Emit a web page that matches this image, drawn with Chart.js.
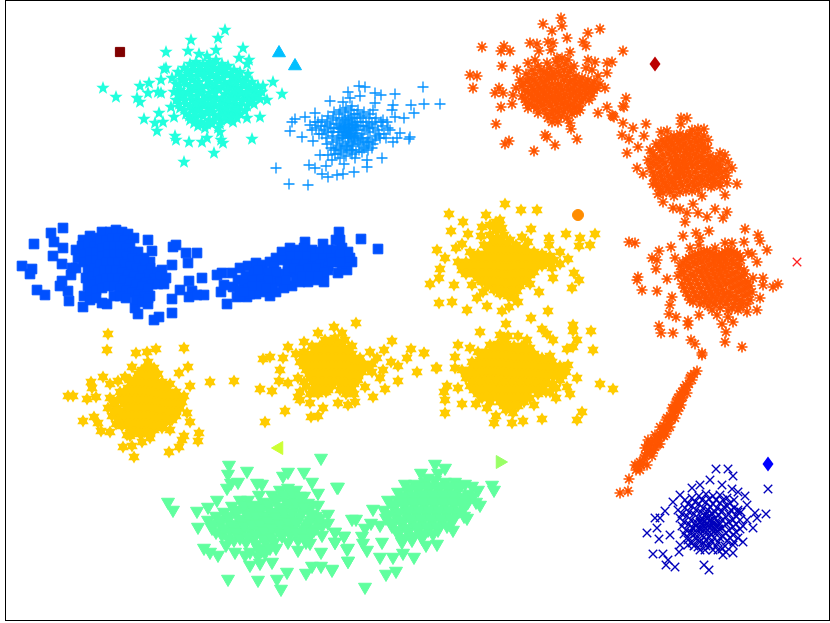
<!DOCTYPE html>
<html>
<head>
<meta charset="utf-8">
<script src="https://cdn.jsdelivr.net/npm/chart.js@4"></script>
<style>
  html, body { margin: 0; padding: 0; background: #fff; }
  canvas { display: block; }
</style>
</head>
<body>
<canvas id="chart" width="830" height="623"></canvas>
<script>
// points, x and y in picture units
const tealStars = [[225,30],[218,38],[191,40],[188,51],[166,52],[199,54],[207,56],[216,50],[243,48],[239,58],[249,60],[247,64],[248,74],[273,82],[282,94],[263,86],[267,100],[260,117],[247,118],[252,139],[223,143],[221,140],[220,132],[214,153],[207,138],[202,142],[189,142],[184,162],[176,140],[175,136],[157,131],[155,123],[163,122],[159,113],[144,119],[174,117],[171,107],[140,102],[137,98],[116,97],[103,88],[140,86],[148,93],[149,83],[158,92],[161,93],[161,80],[166,68],[164,69],
  [172,78],[178,72],[184,68],[190,64],[196,62],[203,64],[210,62],[216,60],[222,64],[228,66],[234,70],[240,72],
  [176,84],[182,80],[188,74],[194,70],[200,72],[207,70],[214,68],[220,72],[227,74],[233,78],[240,80],[246,78],[252,82],[258,86],
  [174,92],[180,90],[186,84],[192,80],[198,82],[205,78],[212,76],[218,80],[224,84],[231,86],[238,88],[244,86],[250,90],[256,92],[262,92],
  [176,100],[182,98],[188,92],[194,90],[200,92],[206,86],[213,88],[219,90],[225,94],[232,96],[238,96],[245,96],[251,98],[258,96],
  [180,108],[186,104],[192,100],[198,100],[204,96],[210,98],[216,98],[222,102],[228,104],[234,104],[240,106],[247,106],[254,104],
  [186,114],[192,110],[198,108],[204,106],[210,108],[216,106],[222,110],[228,112],[234,112],[240,114],
  [190,120],[196,118],[203,116],[209,120],[215,116],[221,120],[227,120],[233,122],[198,126],[205,128],[212,124],[218,128],
  [181,76],[187,71],[193,67],[200,67],[207,66],[213,65],[219,68],[225,70],[231,73],[237,76],[179,86],[185,80],[191,76],[197,76],[204,74],[211,72],[217,75],[223,78],[230,82],[236,83],[243,83],[249,85],[255,88],[178,95],[184,94],[190,87],[196,86],[202,88],[209,82],[215,84],[222,87],[228,90],[235,92],[241,92],[247,93],[254,97],[260,99],[179,104],[185,100],[191,96],[197,96],[203,100],[209,93],[215,93],[222,98],[229,100],[235,100],[242,101],[249,102],[184,110],[190,106],[196,104],[202,102],[208,104],[214,102],[220,105],[226,108],[232,108],[238,110],[245,111],[189,116],[195,113],[201,112],[207,113],[213,112],[219,115],[225,116],[231,117],[237,118],[194,123],[201,122],[207,124],[214,120],[220,124]];

const bluePlus = [[423,87],[440,104],[424,104],[411,105],[414,113],[404,118],[395,94],[365,87],[359,86],[348,92],[360,96],[375,93],[381,95],[330,101],[343,102],[350,98],[393,105],[375,103],[292,122],[295,119],[290,131],[302,137],[313,141],[305,117],[315,113],[276,168],[289,184],[308,185],[309,165],[315,168],[326,166],[322,174],[328,177],[337,175],[343,174],[354,172],[344,164],[367,167],[367,160],[382,158],[372,148],[368,150],[320,155],[328,155],[332,160],[410,137],[409,139],[400,133],[393,142],[397,138],[380,138],[383,120],[392,110],[395,117],[373,110],[352,150],[355,158],
  [310,125],[316,128],[322,120],[328,116],[334,112],[340,110],[346,108],[352,106],[358,110],[364,112],[370,114],[376,118],[382,126],[388,128],
  [312,130],[318,122],[324,130],[330,124],[336,120],[342,118],[348,116],[354,114],[360,118],[366,122],[372,124],[378,130],[384,134],[390,130],
  [322,134],[328,132],[334,128],[340,126],[346,124],[352,122],[358,126],[364,130],[370,132],[376,136],
  [326,138],[332,136],[338,132],[344,130],[350,128],[356,130],[362,134],[368,138],
  [333,142],[339,138],[345,136],[351,134],[357,136],[363,140],[369,142],
  [336,148],[342,144],[348,142],[354,140],[360,144],[366,146],[335,154],[341,150],[347,148],[353,146],[359,150],[340,158],[346,156],[352,154],
  [345,127],[349,131],[353,127],[347,133],[351,137],[355,133],[343,135],[349,125],[355,125],[341,129],
  [315,122],[321,126],[327,122],[333,118],[339,114],[345,112],[351,110],[357,114],[363,116],[369,118],[375,122],[381,122],[387,122],[319,134],[325,126],[331,128],[337,124],[343,122],[349,120],[355,118],[361,122],[367,126],[373,128],[379,134],[386,138],[327,144],[333,132],[339,128],[345,120],[351,118],[357,122],[363,126],[369,128],[375,140],[331,148],[337,140],[343,138],[349,138],[355,138],[361,138],[367,142],[373,144],[334,150],[340,146],[346,146],[352,144],[358,142],[364,148],[338,154],[344,152],[350,150],[356,152],[362,152],[348,136],[352,130],[346,132],[344,126],[354,136],[350,134],[356,128],[342,132],[348,128],[352,124]];

const orangeTop = [[561,18],[562,26],[543,24],[552,31],[567,38],[588,33],[600,29],[482,47],[504,46],[501,51],[510,51],[530,43],[537,44],[548,42],[553,43],[583,42],[586,46],[539,51],[551,50],[623,51],[502,66],[470,75],[477,76],[473,88],[517,70],[535,60],[528,63],[547,63],[557,58],[570,52],[588,60],[595,62],[607,63],[612,62],[607,73],[605,88],[499,88],[495,93],[503,93],[513,95],[501,107],[512,104],[528,108],[538,113],[496,124],[552,122],[558,122],[570,123],[571,129],[545,135],[547,137],[555,145],[577,139],[509,141],[505,144],[534,151],[598,113],[607,107],[612,115],[614,117],[626,98],[623,106],
  [520,80],[526,74],[532,70],[538,66],[544,72],[550,68],[556,62],[562,58],[568,60],[574,66],[586,68],[592,70],[598,76],
  [516,88],[522,86],[528,82],[534,80],[540,78],[546,80],[552,76],[558,72],[564,70],[570,72],[576,76],[582,78],[588,80],[594,82],[600,84],
  [522,96],[528,92],[534,90],[540,88],[546,86],[552,84],[558,84],[564,80],[570,82],[576,84],[582,86],[588,88],[594,90],
  [526,102],[532,98],[538,96],[544,94],[550,92],[556,92],[562,90],[568,90],[574,92],[580,94],[586,94],[592,96],
  [534,106],[540,102],[546,100],[552,98],[558,98],[564,98],[570,98],[576,100],[582,102],
  [544,110],[550,106],[556,104],[562,104],[568,106],[574,108],[580,110],[552,114],[558,112],[564,112],[572,114],[548,118],
  [523,83],[529,78],[535,74],[541,70],[547,74],[553,72],[559,66],[565,64],[571,68],[525,90],[531,86],[537,84],[543,82],[549,78],[555,78],[561,76],[567,76],[573,80],[579,82],[585,84],[591,86],[597,88],[525,99],[531,94],[537,92],[543,90],[549,88],[555,88],[561,86],[567,86],[573,88],[579,90],[585,90],[591,92],[529,104],[535,100],[541,98],[547,96],[553,96],[559,94],[565,94],[571,94],[577,96],[583,98],[589,100],[537,108],[543,105],[549,102],[555,100],[561,100],[567,102],[573,104],[579,106],[547,114],[553,110],[559,108],[565,108],[571,110],[577,112],[555,118],[561,116],[567,118]];

const orangeRight = [[624,107],[613,116],[623,123],[633,128],[646,124],[622,135],[629,139],[644,136],[627,153],[638,147],[661,132],[667,131],[681,118],[687,118],[681,124],[698,129],[704,129],[690,134],[708,140],[637,168],[643,174],[737,184],[732,168],[725,155],[720,153],[728,162],[727,183],[725,195],[702,196],[663,202],[673,208],[680,209],[693,204],[687,213],[685,222],[698,213],[707,217],[715,209],[727,212],[723,218],[712,185],[653,184],[658,194],
  [650,150],[656,144],[662,140],[668,138],[674,136],[680,134],[686,136],[692,130],[698,134],[704,136],
  [648,160],[654,156],[660,150],[666,146],[672,144],[678,142],[684,144],[690,142],[696,142],[702,144],[708,148],
  [650,168],[656,164],[662,160],[668,154],[674,152],[680,150],[686,152],[692,150],[698,150],[704,152],[710,156],[716,158],[722,160],
  [654,176],[660,172],[666,168],[672,162],[678,160],[684,160],[690,158],[696,158],[702,160],[708,164],[714,166],[720,168],[726,170],
  [656,184],[662,180],[668,176],[674,170],[680,168],[686,168],[692,166],[698,168],[704,172],[710,172],[716,174],[722,178],
  [660,190],[666,186],[672,182],[678,178],[684,176],[690,176],[696,178],[702,180],[708,180],[714,182],[720,186],
  [670,192],[676,188],[682,186],[688,186],[694,186],[676,164],[680,172],[684,164],[676,176],
  [653,153],[659,147],[665,143],[671,141],[677,139],[683,139],[689,136],[695,138],[701,140],[651,163],[657,159],[663,155],[669,149],[675,148],[681,146],[687,148],[693,146],[699,146],[705,148],[653,172],[659,167],[665,163],[671,158],[677,156],[683,156],[689,154],[695,154],[701,156],[707,160],[713,162],[719,164],[655,180],[661,176],[667,172],[673,166],[679,164],[685,164],[691,162],[697,163],[703,166],[709,168],[715,170],[721,173],[727,176],[659,187],[665,183],[671,179],[677,174],[683,172],[689,172],[695,172],[701,176],[707,176],[713,178],[719,182],[663,193],[669,189],[675,185],[681,182],[687,181],[693,182],[699,184],[705,185],[711,187],[674,196],[680,192],[686,191],[692,191],[698,190],
  [629,242],[635,243],[683,236],[696,233],[709,231],[700,238],[699,245],[745,229],[758,235],[760,241],[767,250],[744,242],[732,243],[725,243],[715,248],[690,248],[671,247],[659,251],[652,258],[657,260],[675,258],[656,269],[638,277],[637,280],[667,279],[642,290],[657,291],[672,297],[670,305],[669,314],[676,317],[688,321],[688,325],[659,326],[661,333],[673,333],[691,340],[695,344],[702,353],[725,342],[726,332],[722,324],[733,322],[742,347],[717,315],[728,317],[699,315],[747,312],[757,310],[760,298],[763,278],[763,285],[773,287],[778,284],[753,278],[757,262],[752,254],[748,253],
  [680,266],[686,260],[692,256],[698,254],[704,252],[710,252],[716,256],[722,254],[728,250],[734,252],[740,256],
  [678,276],[684,272],[690,268],[696,264],[702,262],[708,260],[714,262],[720,262],[726,260],[732,260],[738,264],[744,270],
  [682,284],[688,280],[694,276],[700,272],[706,270],[712,270],[718,270],[724,268],[730,268],[736,272],[742,276],[748,282],
  [686,292],[692,288],[698,284],[704,280],[710,278],[716,278],[722,276],[728,276],[734,280],[740,284],[746,288],[752,292],
  [690,300],[696,296],[702,292],[708,288],[714,286],[720,286],[726,284],[732,288],[738,292],[744,296],[750,300],
  [700,304],[706,298],[712,296],[718,294],[724,294],[730,296],[736,300],[742,304],[708,306],[714,304],[720,302],[726,304],[732,308],[738,310],
  [683,263],[689,258],[695,255],[701,253],[707,251],[713,254],[719,255],[725,252],[731,251],[737,254],[681,272],[687,266],[693,262],[699,259],[705,257],[711,256],[717,259],[723,258],[729,255],[735,256],[741,260],[685,278],[691,274],[697,270],[703,267],[709,265],[715,266],[721,266],[727,264],[733,264],[739,268],[745,274],[684,288],[690,284],[696,280],[702,276],[708,274],[714,274],[720,273],[726,272],[732,274],[738,278],[744,282],[750,286],[688,296],[694,292],[700,288],[706,284],[712,282],[718,282],[724,280],[730,282],[736,286],[742,290],[748,294],[693,302],[699,298],[705,294],[711,292],[717,290],[723,290],[729,292],[735,296],[741,300],[747,304],[704,302],[710,301],[716,299],[722,298],[728,300],[734,304],[740,307],[712,310],[720,308],[728,311]];

const orangeStreak = [[702,355],[697,371],[690,378],[687,387],[682,392],[677,400],[672,408],[667,418],[660,427],[655,435],[648,445],[650,453],[640,462],[640,470],[635,465],[629,479],[620,493],[628,491],
  [694,374],[692,380],[689,384],[685,390],[687,393],[683,397],[680,401],[681,405],[676,406],[678,411],[674,413],[675,418],[671,420],[668,424],[670,427],[664,430],[666,434],[661,436],[658,440],[660,444],[655,447],[652,450],[648,440],[645,448],[652,456],[644,458],[647,465],[636,470],
  [691,376],[686,385],[684,388],[680,394],[678,398],[682,398],[676,402],[674,408],[679,407],[673,410],[670,416],[672,418],[666,420],[664,426],[668,428],[662,432],[660,434],[664,436],[656,438],[658,444],[654,450],[649,446],[651,442],[655,441],[647,453],[645,456],[641,465],[637,466],[643,463]];

const blueSquaresLeft = [[63,228],[51,233],[34,244],[54,242],[63,248],[53,256],[62,264],[22,266],[32,269],[30,274],[37,290],[45,295],[60,286],[62,281],[68,291],[69,301],[83,307],[71,275],[72,268],[134,238],[148,240],[152,251],[173,247],[176,245],[186,253],[197,253],[188,263],[172,265],[202,278],[189,281],[192,291],[180,290],[189,297],[204,295],[197,295],[172,299],[172,313],[159,317],[154,320],[138,314],[135,308],[148,304],[107,304],[102,303],
  [83,240],[90,236],[96,238],[102,232],[110,232],[116,230],[122,232],[128,234],
  [76,250],[82,246],[88,244],[94,246],[100,240],[106,240],[112,238],[118,238],[124,240],[130,244],
  [78,258],[84,254],[90,252],[96,252],[102,248],[108,246],[114,246],[120,246],[126,248],[132,252],[138,252],[144,258],[150,262],
  [76,268],[84,262],[90,260],[96,260],[102,256],[108,254],[114,254],[120,254],[126,256],[132,258],[138,260],[144,264],[150,268],[156,272],[162,270],
  [88,270],[94,268],[100,264],[106,262],[112,262],[118,262],[124,264],[130,266],[136,268],[142,270],[148,274],[154,278],[160,276],[166,278],
  [86,278],[92,276],[98,272],[104,270],[110,270],[116,270],[122,272],[128,274],[134,276],[140,278],[146,282],[152,284],[158,284],[164,284],
  [88,286],[94,284],[100,280],[106,278],[112,278],[118,278],[124,280],[130,282],[136,284],[142,286],[148,288],
  [84,296],[90,292],[96,290],[102,288],[108,286],[114,286],[120,288],[126,290],[132,292],[138,294],[144,296],[150,296],
  [90,300],[96,298],[114,296],[120,296],[126,298],[136,300],[142,302],[148,298]];

const blueSquaresRight = [[339,232],[361,239],[378,249],[323,244],[305,242],[340,240],[336,240],[352,262],[347,270],[338,273],[323,275],[222,273],[217,275],[221,292],[224,285],[227,304],[237,297],[247,297],[232,273],[233,287],
  [240,268],[248,266],[256,263],[262,265],[238,280],[246,276],[254,272],[262,270],[270,262],[276,258],[282,252],[290,248],[296,250],[304,248],[312,250],[320,252],[328,250],[336,250],[342,248],[344,256],[338,258],[330,258],[322,258],[314,258],[306,256],[298,256],[290,256],[282,260],[274,266],[268,272],[260,278],[252,280],[244,284],[240,290],[248,288],[256,286],[264,284],[272,280],[280,274],[288,264],[296,264],[304,264],[312,266],[320,264],[328,266],[336,262],[342,264],[346,262],[350,258],[348,252],[340,254],[280,282],[288,272],[296,272],[304,272],[312,274],[320,272],[328,270],[264,292],[270,296],[276,292],[284,288],[292,286],[300,282],[308,282],[316,280],[324,282],[296,278],[256,294],[250,294],[240,296],[272,288],
  [286,280],[294,268],[300,270],[308,268],[316,268],[324,272],[276,272],[268,280],[260,286],[252,286],[244,292],[258,270],[332,262],[340,262],[266,288],[302,276],[310,276],[318,276]];

const yellowUpper = [[505,204],[521,210],[537,210],[449,214],[463,222],[451,231],[468,234],[486,215],[531,229],[566,234],[549,238],[580,238],[595,234],[590,245],[579,246],[437,250],[445,258],[462,244],[456,248],[440,269],[439,278],[430,284],[454,285],[439,303],[452,302],[467,310],[477,298],[487,306],[502,311],[509,307],[518,302],[539,292],[548,311],[531,318],[572,288],[579,280],[574,273],[568,259],[560,252],[553,278],[549,245],[528,242],[522,237],[481,236],[482,227],[472,285],[483,292],
  [490,225],[496,222],[500,220],[496,230],[502,228],[490,235],[498,238],[504,235],[510,240],[484,245],[492,246],[500,246],[508,248],[516,245],[524,248],
  [470,252],[478,254],[486,254],[494,254],[502,254],[510,256],[518,254],[526,254],[534,252],[542,254],[550,256],
  [458,262],[466,262],[474,262],[482,262],[490,262],[498,262],[506,264],[514,262],[522,262],[530,262],[538,262],[546,262],[554,260],[560,264],
  [462,270],[470,270],[478,270],[486,270],[494,270],[502,272],[510,272],[518,270],[526,270],[534,272],[552,268],
  [478,278],[486,278],[494,278],[502,280],[510,280],[518,278],[526,278],[488,286],[496,286],[504,288],[512,288],[520,286],[530,284],[500,294],[508,296],[514,298],
  [493,226],[499,226],[493,240],[500,241],[507,243],[488,250],[496,250],[504,250],[512,250],[520,250],[528,252],[474,258],[482,258],[490,258],[498,258],[506,258],[514,258],[522,258],[530,258],[538,258],[546,258],[462,266],[470,266],[478,266],[486,266],[494,266],[502,267],[510,267],[518,266],[526,266],[534,267],[542,266],[550,264],[466,274],[474,274],[482,274],[490,274],[498,275],[506,276],[514,275],[522,274],[530,275],[482,282],[490,282],[498,282],[506,284],[514,283],[522,282],[494,290],[502,291],[510,292],[517,291]];

const yellowLower = [[506,324],[480,332],[458,345],[470,348],[455,357],[424,353],[437,368],[447,386],[444,392],[445,400],[445,413],[458,388],[462,404],[476,404],[487,408],[496,416],[494,423],[512,423],[513,413],[523,421],[542,419],[534,405],[556,398],[570,394],[577,420],[582,412],[600,384],[613,389],[593,350],[591,331],[573,325],[573,331],[577,340],[567,349],[573,347],[542,329],[547,334],[553,340],[518,336],[527,340],[568,365],[577,378],[567,387],[455,368],
  [500,335],[508,336],[490,345],[498,344],[506,344],[514,346],[522,346],[530,348],
  [478,352],[486,352],[494,352],[502,352],[510,352],[518,354],[526,354],[534,354],[542,358],[550,356],
  [472,362],[480,360],[488,360],[496,360],[504,360],[512,362],[520,362],[528,362],[536,362],[544,364],[552,362],[560,366],
  [462,370],[470,370],[478,368],[486,368],[494,368],[502,368],[510,370],[518,370],[526,370],[534,370],[542,372],[550,372],[558,372],[566,372],
  [466,378],[474,378],[482,376],[490,376],[498,376],[506,378],[514,378],[522,378],[530,378],[538,380],[546,380],[560,380],
  [470,386],[478,386],[486,384],[494,384],[502,386],[510,386],[518,386],[526,386],[534,386],[542,388],[556,388],
  [478,394],[486,394],[494,392],[502,394],[510,394],[518,394],[526,394],[538,394],[550,392],
  [500,402],[508,402],[516,402],[524,402],[490,402],[512,408],[506,410],
  [504,340],[494,348],[502,348],[510,348],[518,350],[526,350],[482,356],[490,356],[498,356],[506,356],[514,357],[522,358],[530,358],[538,358],[546,360],[476,365],[484,364],[492,364],[500,364],[508,365],[516,366],[524,366],[532,366],[540,367],[548,367],[556,368],[466,374],[474,374],[482,372],[490,372],[498,372],[506,373],[514,374],[522,374],[530,374],[538,375],[546,376],[554,376],[562,376],[472,382],[480,382],[488,380],[496,380],[504,382],[512,382],[520,382],[528,382],[536,383],[544,384],[552,384],[474,390],[482,390],[490,388],[498,390],[506,390],[514,390],[522,390],[530,390],[538,390],[546,392],[482,398],[490,398],[498,398],[506,398],[514,398],[522,398],[530,398],[504,406],[510,406],[518,406]];

const yellowLeft = [[108,334],[107,350],[136,353],[147,352],[156,349],[184,348],[188,367],[179,373],[190,386],[210,382],[234,381],[132,367],[103,377],[91,382],[92,388],[118,381],[125,377],[110,384],[68,396],[73,396],[87,399],[96,397],[83,421],[94,417],[98,423],[101,431],[110,432],[190,422],[187,413],[170,430],[199,433],[198,441],[184,436],[182,440],[179,447],[169,452],[150,438],[142,442],[134,457],[123,447],[132,446],[127,435],[180,398],
  [148,362],[154,368],[142,370],[150,372],[158,374],[130,380],[138,378],[146,380],[154,380],[162,382],[170,384],
  [120,392],[128,388],[136,386],[144,388],[152,388],[160,390],[168,392],[176,392],[184,396],
  [110,398],[118,400],[126,396],[134,394],[142,396],[150,396],[158,398],[166,400],[174,400],[182,402],
  [108,408],[116,408],[124,404],[132,404],[140,404],[148,404],[156,406],[164,408],[172,408],[180,408],
  [112,416],[120,416],[128,412],[136,412],[144,412],[152,412],[160,414],[168,416],[176,416],
  [116,424],[126,420],[134,420],[142,420],[150,420],[158,422],[166,422],[130,428],[138,428],[146,428],[154,430],[162,428],[130,436],[140,434],
  [146,368],[152,376],[138,374],[146,376],[134,383],[142,383],[150,384],[158,386],[166,388],[124,392],[132,391],[140,391],[148,392],[156,394],[164,396],[172,396],[180,398],[114,403],[122,400],[130,400],[138,400],[146,400],[154,402],[162,404],[170,404],[178,404],[114,412],[120,411],[128,408],[136,408],[144,408],[152,408],[160,410],[168,412],[176,412],[118,420],[124,416],[132,416],[140,416],[148,416],[156,418],[164,418],[172,420],[122,426],[130,424],[138,424],[146,424],[154,426],[162,425],[134,432],[144,432],[150,434]];

const yellowMiddle = [[356,323],[334,327],[342,333],[318,333],[304,342],[288,347],[392,341],[384,350],[411,349],[424,353],[436,368],[417,372],[407,358],[398,366],[391,362],[383,370],[377,358],[370,352],[398,381],[385,389],[373,397],[263,359],[270,357],[283,358],[280,370],[279,381],[288,383],[260,389],[272,391],[285,411],[265,422],[311,417],[318,416],[323,408],[310,403],[298,397],[300,400],[338,403],[348,405],[355,402],[365,387],
  [325,340],[335,338],[345,340],[312,346],[320,346],[328,346],[336,346],[344,348],[352,346],
  [296,354],[304,352],[312,354],[320,354],[328,354],[336,354],[344,354],[352,354],[360,358],
  [300,362],[308,362],[316,362],[324,362],[332,362],[340,362],[348,362],[356,364],[364,364],[372,364],
  [306,370],[314,370],[322,370],[330,370],[338,370],[346,370],[354,372],[362,372],[372,372],[380,378],
  [298,378],[310,378],[318,378],[326,378],[334,378],[342,378],[350,380],[358,380],
  [306,386],[316,386],[324,386],[332,386],[344,386],[352,388],[300,392],[310,394],[318,394],[326,392],[346,394],[354,394],
  [330,342],[340,344],[316,350],[324,350],[332,350],[340,350],[348,351],[304,358],[312,358],[320,358],[328,358],[336,358],[344,358],[352,359],[358,361],[304,366],[312,366],[320,366],[328,366],[336,366],[344,366],[352,368],[360,368],[368,368],[310,374],[318,374],[326,374],[334,374],[342,374],[350,376],[358,376],[304,382],[314,382],[322,382],[330,382],[338,382],[346,383],[354,384],[312,390],[320,390],[328,390],[340,390],[348,390]];

const greenLeft = [[321,458],[229,465],[247,471],[228,474],[288,472],[304,472],[338,487],[168,502],[173,510],[197,511],[198,527],[208,507],[217,500],[227,488],[238,482],[231,483],[257,483],[262,484],[259,495],[283,476],[312,482],[318,493],[352,519],[335,532],[344,536],[335,542],[348,548],[348,561],[332,569],[321,566],[312,566],[306,573],[287,572],[277,579],[281,589],[258,580],[228,579],[272,562],[260,563],[250,565],[218,555],[204,548],[210,552],[226,545],[235,552],[245,555],[265,553],[298,550],[321,552],[310,543],[322,535],[328,523],[328,514],[318,505],
  [208,520],[216,516],[224,512],[232,506],[240,500],[248,500],[256,505],[264,502],[272,495],[280,490],[288,488],[296,490],[304,496],[312,505],
  [212,528],[220,524],[228,520],[236,514],[244,510],[252,512],[260,512],[268,508],[276,502],[284,498],[292,498],[300,502],[308,510],[316,516],
  [222,535],[230,530],[238,524],[246,520],[254,520],[262,520],[270,516],[278,512],[286,508],[294,508],[302,512],[310,520],[318,524],
  [234,540],[242,532],[250,530],[258,528],[266,526],[274,522],[282,518],[290,518],[298,520],[306,526],[314,530],[322,526],
  [246,542],[254,538],[262,536],[270,534],[278,530],[286,526],[294,526],[302,532],[310,535],
  [250,552],[258,548],[266,542],[274,542],[282,536],[290,534],[298,540],[306,542],[258,556],[276,548],[288,542],
  [212,524],[220,520],[228,516],[236,510],[244,505],[252,506],[260,508],[268,504],[276,498],[284,494],[292,493],[300,496],[308,503],[216,532],[224,528],[232,525],[240,519],[248,515],[256,516],[264,516],[272,512],[280,507],[288,503],[296,503],[304,507],[312,514],[320,518],[228,538],[236,532],[244,526],[252,524],[260,524],[268,521],[276,517],[284,513],[292,513],[300,516],[308,523],[316,528],[240,538],[248,536],[256,534],[264,531],[272,528],[280,524],[288,522],[296,523],[304,529],[312,532],[256,544],[264,539],[272,538],[280,533],[288,530],[296,532],[304,538],[262,550],[270,548]];

const greenRight = [[435,464],[445,468],[438,473],[421,473],[428,478],[492,485],[494,490],[480,505],[478,490],[467,518],[453,530],[437,544],[426,545],[414,557],[403,553],[393,557],[380,557],[396,571],[386,574],[365,587],[367,550],[382,542],[362,536],[363,543],[337,487],[356,519],[373,509],[365,528],[371,523],[380,525],[344,536],[335,532],[335,542],[347,549],[348,561],[332,570],
  [405,484],[415,484],[425,482],[435,480],[445,482],[455,482],[465,484],[472,486],
  [398,492],[408,492],[418,490],[428,490],[438,490],[448,490],[458,490],[468,494],
  [388,500],[398,500],[408,498],[418,498],[428,498],[438,498],[448,498],[458,498],[468,502],[476,502],
  [384,510],[394,508],[404,506],[414,506],[424,506],[434,506],[444,506],[454,506],[464,508],
  [386,518],[396,516],[406,514],[416,514],[426,514],[436,514],[446,514],[456,514],[464,516],
  [392,526],[402,524],[412,522],[422,522],[432,522],[442,522],[452,522],
  [398,534],[408,532],[418,530],[428,530],[438,530],[402,542],[412,540],[422,538],
  [410,488],[420,486],[430,486],[440,486],[450,486],[460,486],[403,496],[413,495],[423,494],[433,494],[443,494],[453,494],[463,497],[473,496],[393,504],[403,502],[413,502],[423,502],[433,502],[443,502],[453,502],[463,503],[389,514],[399,512],[409,510],[419,510],[429,510],[439,510],[449,510],[459,511],[391,522],[401,520],[411,518],[421,518],[431,518],[441,518],[451,518],[397,530],[407,528],[417,526],[427,526],[437,526],[447,526],[403,538],[413,536],[423,534],[433,534]];

const navyCrosses = [[716,469],[728,469],[733,476],[768,489],[766,514],[710,480],[722,485],[700,485],[692,488],[680,495],[673,502],[665,511],[655,518],[660,518],[657,528],[647,533],[659,539],[653,554],[663,554],[668,560],[666,565],[675,567],[704,565],[709,570],[679,552],[680,545],[670,535],[723,555],[733,553],[743,542],[753,528],[755,513],[747,520],[732,489],[745,496],[738,492],[747,505],[738,510],[757,518],[705,550],[713,550],[733,545],[688,545],
  [685,500],[692,498],[699,496],[706,494],[713,496],[720,495],[727,498],[734,500],
  [678,510],[685,508],[692,506],[699,504],[706,502],[713,504],[720,503],[727,506],[734,508],[741,512],
  [680,518],[687,516],[694,514],[701,512],[708,510],[715,512],[722,511],[729,514],[736,516],
  [682,526],[689,524],[696,522],[703,520],[707,518],[711,520],[715,518],[722,520],[729,522],[736,524],[743,526],
  [684,534],[691,532],[698,528],[703,526],[707,524],[711,526],[716,524],[722,528],[729,530],[736,532],
  [688,540],[695,538],[701,534],[706,532],[711,534],[717,532],[723,536],[730,538],[738,538],
  [694,546],[700,542],[706,540],[712,542],[718,542],[725,546],[700,550],[706,546],[718,550],[726,552],
  [700,522],[704,530],[708,526],[712,530],[702,518],[706,514],[710,516],[714,528],[700,528],[696,526],[718,526],[720,524],[692,528],
  [688,504],[695,502],[702,500],[709,499],[716,500],[723,500],[730,503],[682,514],[689,512],[696,510],[703,508],[710,507],[717,508],[724,507],[731,510],[738,512],[684,522],[691,520],[698,518],[705,516],[712,513],[719,515],[726,517],[733,520],[740,520],[686,530],[693,528],[703,523],[709,521],[713,523],[717,521],[726,524],[733,527],[740,529],[688,537],[695,534],[701,530],[706,528],[710,528],[714,532],[719,529],[726,533],[733,535],[692,543],[698,540],[704,537],[709,537],[714,538],[720,538],[727,541],[734,542],[698,547],[704,543],[710,546],[716,546],[722,549]];

// the single markers scattered around the clusters
const darkRedSquare = [[120,52]];
const skyTriangles = [[279,53],[295,66]];
const redDiamond = [[655,64]];
const redCross = [[797,262]];
const orangeDot = [[578,215]];
const limeLeft = [[279,448]];
const limeRight = [[500,462]];
const blueDiamond = [[768,464]];

// Chart.js has no filled star or narrow diamond, so these are small canvases used as pointStyle
function shapeCanvas(color, size, draw) {
  let c = document.createElement('canvas');
  c.width = size;
  c.height = size;
  let ctx = c.getContext('2d');
  ctx.fillStyle = color;
  ctx.translate(size / 2, size / 2);
  draw(ctx);
  return c;
}

function fivePoint(ctx) {
  ctx.beginPath();
  for (let i = 0; i < 10; i++) {
    let r = i % 2 ? 2.9 : 7;
    let a = -Math.PI / 2 + i * Math.PI / 5;
    ctx.lineTo(Math.cos(a) * r, Math.sin(a) * r);
  }
  ctx.closePath();
  ctx.fill();
}

function sixPoint(ctx) {
  for (let flip of [1, -1]) {
    ctx.beginPath();
    for (let i = 0; i < 3; i++) {
      let a = flip * (-Math.PI / 2) + i * 2 * Math.PI / 3;
      ctx.lineTo(Math.cos(a) * 6.6, Math.sin(a) * 6.6);
    }
    ctx.closePath();
    ctx.fill();
  }
}

function narrowDiamond(ctx) {
  ctx.beginPath();
  ctx.moveTo(0, -7.5);
  ctx.lineTo(5.5, 0);
  ctx.lineTo(0, 7.5);
  ctx.lineTo(-5.5, 0);
  ctx.closePath();
  ctx.fill();
}

const tealStar = shapeCanvas('#21ffdd', 16, fivePoint);
const yellowStar = shapeCanvas('#ffcc00', 16, sixPoint);
const redDiamondMark = shapeCanvas('#bb0000', 16, narrowDiamond);
const blueDiamondMark = shapeCanvas('#0000ff', 16, narrowDiamond);

function series(points, style, color, radius, extra) {
  return Object.assign({
    data: points.map(p => ({ x: p[0], y: p[1] })),
    pointStyle: style,
    pointRadius: radius,
    backgroundColor: color,
    borderColor: color,
    borderWidth: 1
  }, extra || {});
}

const frame = {
  id: 'frame',
  afterDraw(chart) {
    let ctx = chart.ctx, a = chart.chartArea;
    ctx.save();
    ctx.strokeStyle = '#000';
    ctx.lineWidth = 1;
    ctx.strokeRect(a.left + 0.5, a.top + 0.5, a.width - 1, a.height - 1);
    ctx.restore();
  }
};

new Chart(document.getElementById('chart').getContext('2d'), {
  type: 'scatter',
  data: {
    datasets: [
      series(tealStars, tealStar, '#21ffdd', 7),
      series(bluePlus, 'cross', '#0090ff', 5.5, { borderWidth: 1.3 }),
      series(orangeTop, 'star', '#ff5500', 5.5, { borderWidth: 1.6 }),
      series(orangeRight, 'star', '#ff5500', 5.5, { borderWidth: 1.6 }),
      series(orangeStreak, 'star', '#ff5500', 5.5, { borderWidth: 1.6 }),
      series(blueSquaresLeft, 'rect', '#0050ff', 6.8),
      series(blueSquaresRight, 'rect', '#0050ff', 6.8),
      series(yellowUpper, yellowStar, '#ffcc00', 7),
      series(yellowLower, yellowStar, '#ffcc00', 7),
      series(yellowLeft, yellowStar, '#ffcc00', 7),
      series(yellowMiddle, yellowStar, '#ffcc00', 7),
      series(greenLeft, 'triangle', '#60ff9f', 7.5, { pointRotation: 180 }),
      series(greenRight, 'triangle', '#60ff9f', 7.5, { pointRotation: 180 }),
      series(navyCrosses, 'crossRot', '#0000bb', 6, { borderWidth: 1.4 }),
      series(darkRedSquare, 'rect', '#800000', 6.5),
      series(skyTriangles, 'triangle', '#00bfff', 7.5),
      series(redDiamond, redDiamondMark, '#bb0000', 7),
      series(redCross, 'crossRot', '#ff2020', 6, { borderWidth: 1.3 }),
      series(orangeDot, 'circle', '#ff8c00', 5.5),
      series(limeLeft, 'triangle', '#ccff33', 7.5, { pointRotation: -90 }),
      series(limeRight, 'triangle', '#99ff66', 7.5, { pointRotation: 90 }),
      series(blueDiamond, blueDiamondMark, '#0000ff', 7)
    ]
  },
  options: {
    responsive: false,
    animation: false,
    layout: { autoPadding: false, padding: { left: 5, right: 0, top: 0, bottom: 2 } },
    plugins: { legend: { display: false }, tooltip: { enabled: false } },
    scales: {
      x: { type: 'linear', min: 5, max: 830, display: false },
      y: { type: 'linear', min: 0, max: 621, reverse: true, display: false }
    }
  },
  plugins: [frame]
});
</script>
</body>
</html>
